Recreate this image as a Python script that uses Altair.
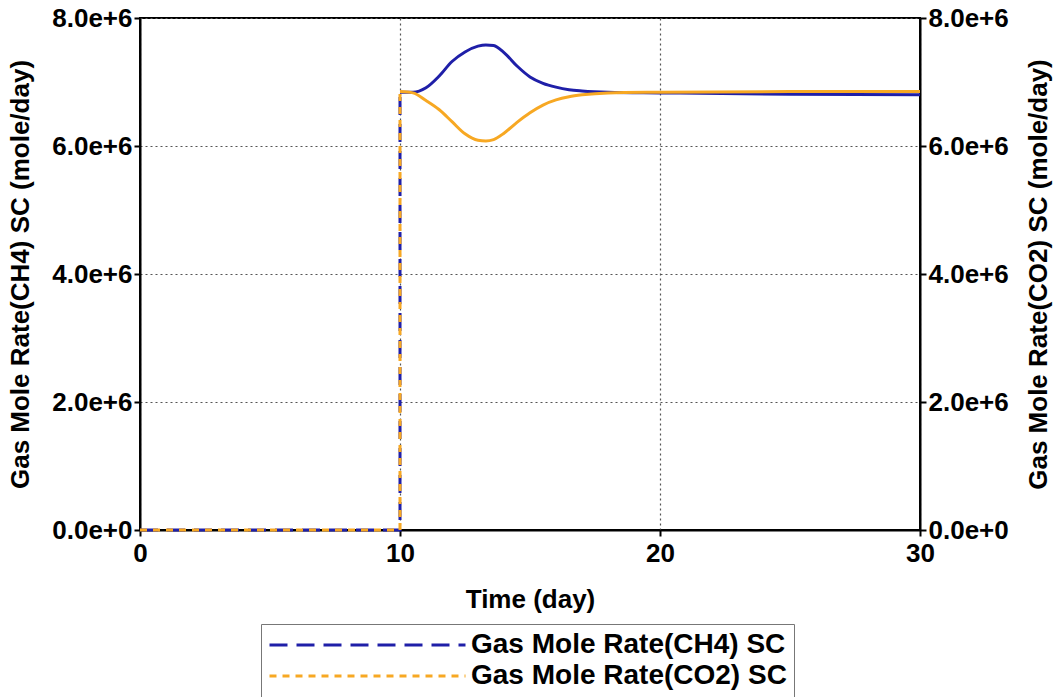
import altair as alt
import pandas as pd

series_names = ["Gas Mole Rate(CH4) SC", "Gas Mole Rate(CO2) SC"]
series_colors = ["#1f1fa8", "#f7a823"]
series_dashes = [[18, 9], [7, 6]]

# step part (before gas arrives, then the jump at day 10)
step_time = [0, 10, 10]
ch4_step = [0.0, 0.0, 6.84e6]
co2_step = [0.0, 0.0, 6.85e6]

# continuous part after day 10
curve_time = [10, 10.5, 11, 11.5, 12, 12.5, 13, 13.3, 13.6, 14, 14.5, 15, 15.5,
              16, 16.5, 17, 18, 20, 25, 30]
ch4_curve = [6.84e6, 6.84e6, 6.91e6, 7.09e6, 7.32e6, 7.47e6, 7.56e6, 7.58e6, 7.57e6,
             7.46e6, 7.25e6, 7.08e6, 6.98e6, 6.92e6, 6.88e6, 6.86e6, 6.84e6, 6.83e6,
             6.81e6, 6.80e6]
co2_curve = [6.85e6, 6.83e6, 6.71e6, 6.57e6, 6.38e6, 6.19e6, 6.09e6, 6.08e6, 6.10e6,
             6.20e6, 6.37e6, 6.52e6, 6.64e6, 6.72e6, 6.77e6, 6.80e6, 6.83e6, 6.84e6,
             6.85e6, 6.85e6]

x_ticks = [0, 10, 20, 30]
y_ticks = [0, 2e6, 4e6, 6e6, 8e6]

rows = []
for name, step_vals, curve_vals in [(series_names[0], ch4_step, ch4_curve),
                                    (series_names[1], co2_step, co2_curve)]:
    for i, (t, v) in enumerate(zip(step_time, step_vals)):
        rows.append({"series": name, "part": "step", "idx": i, "time": t, "value": v})
    for i, (t, v) in enumerate(zip(curve_time, curve_vals)):
        rows.append({"series": name, "part": "curve", "idx": i, "time": t, "value": v})
df = pd.DataFrame(rows)

FONT = "Liberation Sans"

legend = alt.Legend(
    orient="none", legendX=121, legendY=606, title=None,
    symbolType="stroke", symbolSize=196 * 196, symbolStrokeWidth=3,
    labelFont=FONT, labelFontSize=28, labelFontWeight="bold", labelColor="black",
    labelOffset=4, clipHeight=28, rowPadding=3, padding=7,
    strokeColor="#777777", fillColor="white", labelLimit=0,
)

color = alt.Color("series:N",
                  scale=alt.Scale(domain=series_names, range=series_colors),
                  legend=legend)
dash = alt.StrokeDash("series:N",
                      scale=alt.Scale(domain=series_names, range=series_dashes),
                      legend=legend)

x_enc = alt.X("time:Q", scale=alt.Scale(domain=[0, 30], nice=False),
              axis=alt.Axis(values=x_ticks, format="d", title="Time (day)",
                            labelFlush=False, labelOverlap=False,
                            labelPadding=4, titlePadding=20,
                            grid=True))


def y_enc(orient, title, grid):
    return alt.Y("value:Q", scale=alt.Scale(domain=[0, 8e6], nice=False),
                 axis=alt.Axis(orient=orient, values=y_ticks, format=".1e",
                               title=title, grid=grid, labelFlush=False,
                               labelOverlap=False, labelPadding=2,
                               titlePadding=18 if orient == "left" else 17,
                               titleAngle=270,
                               titleBaseline="bottom" if orient == "left" else "top"))


def series_layer(name, orient, title, grid):
    base = alt.Chart(df)
    step = base.mark_line(strokeWidth=3).encode(
        x=x_enc, y=y_enc(orient, title, grid), color=color, strokeDash=dash,
        order=alt.Order("idx:Q"),
    ).transform_filter(
        (alt.datum.series == name) & (alt.datum.part == "step")
    )
    curve = base.mark_line(strokeWidth=3, interpolate="monotone").encode(
        x=x_enc, y=y_enc(orient, title, grid), color=color,
        order=alt.Order("idx:Q"),
    ).transform_filter(
        (alt.datum.series == name) & (alt.datum.part == "curve")
    )
    return alt.layer(step, curve)


left = series_layer(series_names[0], "left", "Gas Mole Rate(CH4) SC (mole/day)", True)
right = series_layer(series_names[1], "right", "Gas Mole Rate(CO2) SC (mole/day)", False)

chart = alt.layer(left, right).resolve_scale(y="independent").properties(
    width=780, height=512,
    autosize=alt.AutoSizeParams(type="none"),
    padding={"left": 140, "top": 18, "right": 137, "bottom": 167},
    background="white",
).configure_view(
    stroke="black", strokeWidth=2,
).configure_axis(
    labelFont=FONT, labelFontSize=26, labelFontWeight="bold", labelColor="black",
    titleFont=FONT, titleFontSize=26, titleFontWeight="bold", titleColor="black",
    domainColor="black", domainWidth=2, tickColor="black", tickWidth=2, tickSize=6,
    gridColor="#555555", gridDash=[2, 3], gridWidth=1.2, gridOpacity=1,
)

chart.save("out.html", embed_options={"renderer": "svg", "actions": False})
